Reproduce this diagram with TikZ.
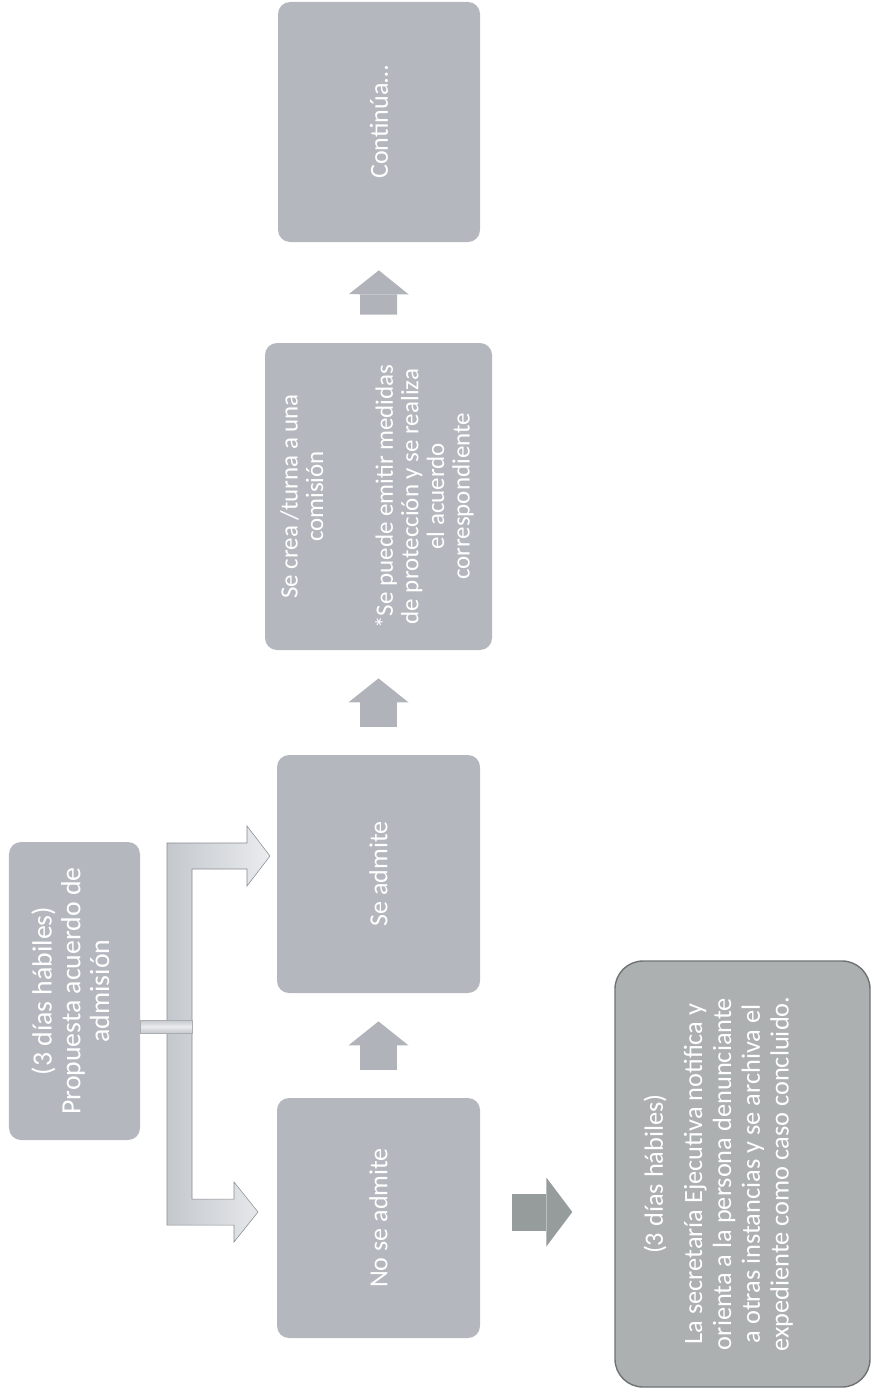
\documentclass[tikz,border=0pt]{standalone}
\usepackage{fontspec}
\setmainfont{Carlito}
\usetikzlibrary{arrows.meta}
\definecolor{grisCaja}{RGB}{180,184,190}
\definecolor{grisFin}{RGB}{172,176,177}
\definecolor{bordeFin}{RGB}{110,115,115}
\definecolor{grisFlecha}{RGB}{176,180,186}
\definecolor{grisOscuro}{RGB}{150,155,156}
\definecolor{llave}{RGB}{196,200,205}
\definecolor{llaveClara}{RGB}{234,236,238}
\definecolor{llaveBorde}{RGB}{135,139,144}

\begin{document}
\begin{tikzpicture}[x=0.2mm, y=-0.2mm,
    caja/.style={rectangle, rounded corners=2.4mm, fill=grisCaja, text=white, inner sep=0pt,
      font=\fontsize{14.8}{15.8}\selectfont},
    subir/.style={draw=grisFlecha, line width=7.4mm, shorten <=5.6mm, shorten >=5.6mm,
      -{Triangle[length=4.8mm, width=12mm, line width=0pt]}},
    bajar/.style={draw=grisOscuro, line width=7.4mm, shorten <=6.4mm, shorten >=8.4mm,
      -{Triangle[length=5.2mm, width=13.8mm, line width=0pt]}}]
  \useasboundingbox (0,0) rectangle (872,1393);

  % llave de la propuesta
  \draw[draw=llaveBorde, line width=0.3pt, left color=llave, right color=llaveClara]
    (167,843) -- (247,843) -- (247,826) -- (270,856) -- (247,886) -- (247,869) -- (192,869)
    -- (192,1199) -- (234,1199) -- (234,1182) -- (258,1212) -- (234,1242) -- (234,1225)
    -- (167,1225) -- cycle;
  \draw[draw=llaveBorde!70, line width=0.3pt, top color=llave, bottom color=llave, middle color=llaveClara]
    (140,1020) rectangle (192,1033);

  \node[caja, minimum width=26.2mm, minimum height=59.6mm, font=\fontsize{15.8}{16.4}\selectfont]
    (propuesta) at (74.5,991)
    {\rotatebox{90}{\begin{tabular}{@{}c@{}}(3 días hábiles)\\ Propuesta acuerdo de\\ admisión\end{tabular}}};
  \node[caja, minimum width=40.6mm, minimum height=48mm] (noadmite) at (378.5,1218)
    {\rotatebox{90}{No se admite}};
  \node[caja, minimum width=40.6mm, minimum height=47.6mm] (admite) at (378.5,874)
    {\rotatebox{90}{Se admite}};
  \node[caja, minimum width=45.4mm, minimum height=61.4mm, font=\fontsize{14.2}{14.6}\selectfont]
    (comision) at (378.5,496.5)
    {\rotatebox{90}{\begin{tabular}{@{}c@{}}Se crea /turna a una\\ comisión\\[25pt]
      *Se puede emitir medidas\\ de protección y se realiza\\ el acuerdo\\ correspondiente\end{tabular}}};
  \node[caja, minimum width=40.4mm, minimum height=48mm] (continua) at (379,122)
    {\rotatebox{90}{Continúa…}};
  \node[caja, rounded corners=5.6mm, fill=grisFin, draw=bordeFin, line width=0.8pt,
        font=\fontsize{15}{16.4}\selectfont, minimum width=51mm, minimum height=85.2mm]
    (archivo) at (742.5,1174)
    {\rotatebox{90}{\begin{tabular}{@{}c@{}}(3 días hábiles)\\[6pt]
      La secretaría Ejecutiva notifica y\\ orienta a la persona denunciante\\
      a otras instancias y se archiva el\\ expediente como caso concluido.\end{tabular}}\hspace*{9mm}};

  \draw[subir] (noadmite.north) -- (admite.south);
  \draw[subir] (admite.north) -- (comision.south);
  \draw[subir] (comision.north) -- (continua.south);
  \draw[bajar] ([yshift=1.2mm]noadmite.east) -- ([yshift=1.2mm]noadmite.east -| archivo.west);
\end{tikzpicture}
\end{document}
